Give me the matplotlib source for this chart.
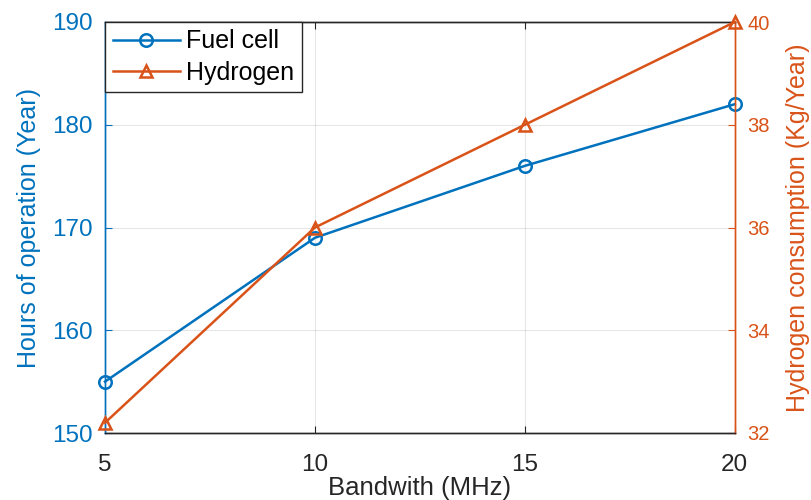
import matplotlib
matplotlib.use("Agg")
import matplotlib.pyplot as plt

bandwidth = [5, 10, 15, 20]
fuel_cell_hours = [155, 169, 176, 182]
hydrogen_kg = [32.2, 36, 38, 40]
x_ticks = [5, 10, 15, 20]
left_ticks = [150, 160, 170, 180, 190]
right_ticks = [32, 34, 36, 38, 40]

blue = "#0072BD"
orange = "#D95319"
dark = "#262626"

plt.rcParams['font.family'] = ['Liberation Sans', 'DejaVu Sans']

fig = plt.figure(figsize=(8.11, 5.0), dpi=100)
ax = fig.add_axes([0.1295, 0.134, 0.7765, 0.822])
ax2 = ax.twinx()

l1, = ax.plot(bandwidth, fuel_cell_hours, color=blue, lw=1.8, marker='o', ms=9,
              mfc='none', mew=1.8, label='Fuel cell', clip_on=False, zorder=3)
l2, = ax2.plot(bandwidth, hydrogen_kg, color=orange, lw=1.8, marker='^', ms=9,
               mfc='none', mew=1.8, label='Hydrogen', clip_on=False, zorder=3)

ax.set_xlim(5, 20)
ax.set_ylim(150, 190)
ax2.set_ylim(32, 40)
ax.set_xticks(x_ticks)
ax.set_yticks(left_ticks)
ax2.set_yticks(right_ticks)

ax.grid(True, color='#000000', alpha=0.10, lw=0.8)
ax.set_axisbelow(True)

ax.tick_params(axis='x', direction='in', colors=dark, labelsize=17.5, length=5, pad=15, top=True)
ax.tick_params(axis='y', direction='in', colors=blue, labelsize=17.5, length=5, pad=9)
ax2.tick_params(axis='y', direction='in', colors=orange, labelsize=14.5, length=5, pad=9)

for a in (ax, ax2):
    a.spines['top'].set_color(dark)
    a.spines['bottom'].set_color(dark)
    a.spines['left'].set_color(blue)
    a.spines['right'].set_color(orange)
    for s in a.spines.values():
        s.set_linewidth(1.0)

ax.set_xlabel('Bandwith (MHz)', fontsize=18.5, color=dark, labelpad=0)
ax.set_ylabel('Hours of operation (Year)', fontsize=18, color=blue, labelpad=8)
ax2.set_ylabel('Hydrogen consumption (Kg/Year)', fontsize=18, color=orange,
               rotation=90, labelpad=12)

leg = ax2.legend([l1, l2], ['Fuel cell', 'Hydrogen'], loc='upper left',
                 fontsize=18, frameon=True, fancybox=False, framealpha=1,
                 edgecolor=dark, borderaxespad=0.0, handlelength=2.7,
                 labelspacing=0.3, borderpad=0.3, handletextpad=0.25)
leg.get_frame().set_linewidth(1.0)

fig.savefig('out.png', dpi=100)
